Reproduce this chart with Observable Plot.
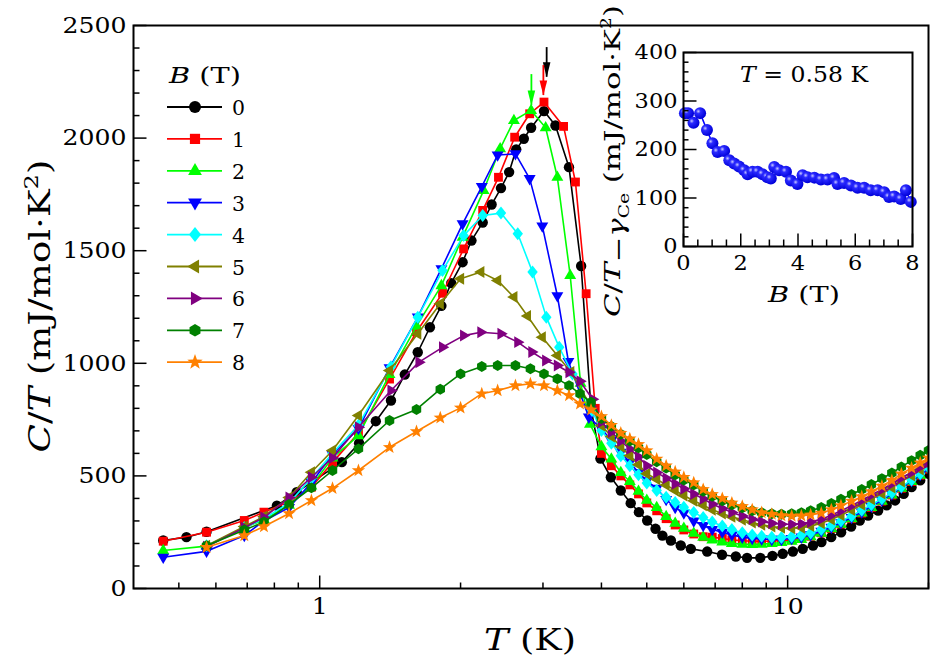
<!DOCTYPE html>
<html><head><meta charset="utf-8">
<script src="https://cdn.jsdelivr.net/npm/d3@7"></script>
<script src="https://cdn.jsdelivr.net/npm/@observablehq/plot@0.6"></script>
<style>
html,body{margin:0;padding:0;background:#fff;}
#wrap{position:relative;width:938px;height:667px;overflow:hidden;background:#fff;}
#wrap svg{position:absolute;overflow:visible;}
</style></head><body><div id="wrap"></div>
<script>
// ---------- data ----------
const fields = [0,1,2,3,4,5,6,7,8];
const colors = ["#000000","#ff0000","#00ff00","#0000ff","#00ffff","#808000","#800080","#008000","#ff8000"];
// shared high-temperature grid (K) used by fields 1..8
const HT = [4.0,4.2,4.4,4.6,4.8,5.0,5.25,5.5,5.75,6.0,6.3,6.6,6.9,7.25,7.6,8.0,8.4,8.8,9.25,9.7,10.2,10.7,11.2,11.8,12.4,13.0,13.7,14.4,15.1,15.9,16.7,17.5,18.4,19.2,20.0];

const T_0 = [0.463,0.519,0.573,0.81,0.893,1.115,1.214,1.318,1.42,1.52,1.62,1.72,1.82,1.91,2.02,2.11,2.23,2.33,2.44,2.54,2.63,2.73,2.83,3.015,3.19,3.41,3.62,3.80,3.98,4.19,4.40,4.62,4.81,5.01,5.22,5.40,5.63,5.91,6.21,6.73,7.24,7.75,8.19,8.74,9.28,9.76,10.26,10.77,11.33,11.81,12.39,13.01,13.67,14.26,14.86,15.61,16.28,16.97,17.7,18.4,19.2,20.0];
const C_0 = [213,228,252,368,428,561,645,743,835,950,1049,1160,1255,1356,1449,1545,1625,1705,1778,1849,1950,1997,2046,2120,2056,1871,1432,800,577,494,435,379,339,302,265,235,213,191,176,164,150,142,136,136,145,154,164,176,191,206,228,250,275,302,324,346,369,391,420,450,480,509];

const T_1 = [0.463,0.573,0.69,0.76,0.86,0.96,1.065,1.21,1.41,1.61,1.83,2.03,2.23,2.41,2.61,2.81,3.015,3.32,3.52,3.71,3.88];
const C_1 = [210,250,302,339,385,450,560,690,930,1140,1311,1508,1679,1826,2004,2108,2160,2052,1805,1309,800];
const C_1h = [600,545,500,460,420,380,345,310,282,260,242,230,228,222,216,212,210,210,211,213,216,222,232,247,266,286,310,335,360,388,415,445,475,503,530];

const T_2 = [0.463,0.573,0.69,0.76,0.86,0.96,1.065,1.21,1.41,1.61,1.82,2.02,2.24,2.43,2.60,2.83,3.04,3.22,3.43,3.61,3.78];
const C_2 = [169,188,270,305,370,455,580,679,950,1165,1345,1560,1767,1953,2078,2123,2046,1826,1390,912,730];
const C_2h = [630,575,515,475,432,392,360,320,290,268,245,228,215,207,200,197,196,197,200,204,210,218,230,245,265,285,310,335,360,388,415,445,475,503,532];

const T_3 = [0.463,0.573,0.69,0.76,0.86,0.96,1.065,1.21,1.41,1.62,1.82,2.02,2.22,2.40,2.62,2.81,2.99,3.22,3.40,3.76];
const C_3 = [139,165,235,300,360,470,595,710,980,1205,1420,1619,1785,1925,1930,1820,1610,1300,1008,761];
const C_3h = [709,657,605,560,515,478,445,395,360,335,300,280,262,250,238,228,222,220,218,218,222,228,238,254,272,292,315,340,365,392,420,448,478,506,535];

const T_4 = [0.573,0.69,0.76,0.86,0.96,1.065,1.21,1.42,1.62,1.83,2.03,2.23,2.44,2.65,2.85,3.05,3.25,3.47,3.82];
const C_4 = [190,270,310,380,490,600,725,985,1205,1412,1567,1656,1667,1575,1405,1205,1071,953,790];
const C_4h = [702,645,590,545,505,468,435,405,382,361,338,315,295,278,262,248,238,232,228,227,230,236,246,262,280,300,322,348,372,398,425,452,482,510,539];

const T_5 = [0.573,0.69,0.76,0.86,0.96,1.065,1.21,1.41,1.62,1.81,2.0,2.21,2.40,2.60,2.78,2.99,3.22,3.44,3.8];
const C_5 = [190,275,320,404,516,613,768,968,1131,1264,1375,1405,1368,1294,1210,1116,1035,961,810];
const C_5h = [724,675,630,590,550,510,485,460,435,413,390,370,350,333,318,305,293,283,275,270,268,270,277,290,306,325,348,372,396,422,448,475,502,528,552];

const T_6 = [0.573,0.69,0.76,0.86,0.96,1.065,1.21,1.42,1.63,1.83,2.03,2.21,2.44,2.65,2.84,3.04,3.22,3.41,3.6,3.83];
const C_6 = [185,270,315,404,494,580,716,879,1005,1071,1123,1138,1131,1094,1050,1012,990,960,920,840];
const C_6h = [739,695,655,620,585,545,515,490,465,443,420,398,375,355,338,322,308,297,290,285,285,288,295,308,325,345,368,392,415,440,465,492,515,540,561];

const T_7 = [0.573,0.69,0.76,0.86,0.96,1.065,1.21,1.41,1.61,1.81,2.0,2.22,2.40,2.62,2.82,3.015,3.22,3.41,3.6,3.8];
const C_7 = [190,260,295,373,447,524,620,746,795,885,953,986,990,990,976,953,931,901,865,827];
const C_7h = [755,720,685,655,625,595,563,535,505,482,460,432,410,390,372,358,345,337,332,330,332,337,345,360,378,396,418,440,462,488,513,540,568,592,613];

const T_8 = [0.573,0.69,0.76,0.86,0.96,1.065,1.21,1.41,1.61,1.81,2.0,2.22,2.40,2.62,2.82,3.015,3.22,3.41,3.6,3.8];
const C_8 = [183,235,275,333,391,445,524,627,697,758,802,865,879,901,909,901,879,857,820,793];
const C_8h = [764,725,690,665,640,612,575,545,518,494,470,440,418,400,380,365,350,337,330,324,322,323,327,335,350,368,388,408,430,455,480,509,535,558,580];

// peak arrows
const arrowT = [3.055,3.006,2.834];
const arrowTop = [2402,2322,2282];
const arrowTip = [2270,2189,2145];
const arrowColors = ["#000000","#ff0000","#00ff00"];

// axes ticks
const yMajor = [0,500,1000,1500,2000,2500];
const yMinor = [100,200,300,400,600,700,800,900,1100,1200,1300,1400,1600,1700,1800,1900,2100,2200,2300,2400];
const xMajor = [1,10];
const xMinor = [0.5,0.6,0.7,0.8,0.9,2,3,4,5,6,7,8,9,20];

// inset: C/T - gamma_Ce at T = 0.58 K vs B
const B_in = [0.05,0.16,0.35,0.58,0.82,1.01,1.19,1.42,1.60,1.77,1.94,2.12,2.24,2.41,2.59,2.76,2.93,3.05,3.17,3.34,3.58,3.75,3.98,4.16,4.33,4.57,4.80,5.03,5.26,5.38,5.61,5.85,6.08,6.31,6.54,6.78,7.01,7.18,7.36,7.59,7.77,7.94];
const V_in = [275,275,255,275,240,213,195,197,178,171,165,157,149,154,154,149,143,140,164,157,154,136,129,147,143,142,138,138,141,129,131,126,121,121,116,116,112,102,103,98,116,92];
const inXMajor = [0,2,4,6,8];
const inXMinor = [0.5,1,1.5,2.5,3,3.5,4.5,5,5.5,6.5,7,7.5];
const inYMajor = [0,100,200,300,400];
const inYMinor = [20,40,60,80,120,140,160,180,220,240,260,280,320,340,360,380];

// ---------- symbols ----------
const FONT = "'DejaVu Serif', 'Liberation Serif', serif";
function poly(pts){ return {draw(ctx,size){ const r=Math.sqrt(size/Math.PI); ctx.moveTo(pts[0][0]*r,pts[0][1]*r); for(let i=1;i<pts.length;i++) ctx.lineTo(pts[i][0]*r,pts[i][1]*r); ctx.closePath(); }}; }
const symSquare = poly([[-0.85,-0.85],[0.85,-0.85],[0.85,0.85],[-0.85,0.85]]);
const symTriUp = poly([[0,-1.3],[1.15,0.68],[-1.15,0.68]]);
const symTriDown = poly([[0,1.3],[1.15,-0.68],[-1.15,-0.68]]);
const symTriLeft = poly([[-1.3,0],[0.68,-1.15],[0.68,1.15]]);
const symTriRight = poly([[1.3,0],[-0.68,-1.15],[-0.68,1.15]]);
const symDiamond = poly([[0,-1.25],[1.0,0],[0,1.25],[-1.0,0]]);
const symHex = poly(d3.range(6).map(i=>{const a=Math.PI/3*i-Math.PI/2; return [1.05*Math.cos(a),1.05*Math.sin(a)];}));
const symStar = poly(d3.range(10).map(i=>{const a=Math.PI/5*i-Math.PI/2; const rr=i%2?0.55:1.35; return [rr*Math.cos(a),rr*Math.sin(a)];}));
const syms = [d3.symbolCircle,symSquare,symTriUp,symTriDown,symDiamond,symTriLeft,symTriRight,symHex,symStar];
const arrowHead = {draw(ctx){ ctx.moveTo(0,0); ctx.lineTo(-3.8,-15); ctx.lineTo(3.8,-15); ctx.closePath(); }};
const tickH = L => ({draw(ctx){ ctx.moveTo(0,0); ctx.lineTo(L,0); }});
const tickV = L => ({draw(ctx){ ctx.moveTo(0,0); ctx.lineTo(0,-L); }});
const num = d => String(d);

// ---------- build series ----------
const Ts = [T_0, T_1.concat(HT), T_2.concat(HT), T_3.concat(HT), T_4.concat(HT), T_5.concat(HT), T_6.concat(HT), T_7.concat(HT), T_8.concat(HT)];
const Cs = [C_0, C_1.concat(C_1h), C_2.concat(C_2h), C_3.concat(C_3h), C_4.concat(C_4h), C_5.concat(C_5h), C_6.concat(C_6h), C_7.concat(C_7h), C_8.concat(C_8h)];
const marks = [];
fields.forEach((f,i)=>{
  const rows = Ts[i].map((t,j)=>({T:t, C:Cs[i][j]}));
  marks.push(Plot.line(rows,{x:"T",y:"C",stroke:colors[i],strokeWidth:1.6,clip:true}));
  marks.push(Plot.dot(rows,{x:"T",y:"C",symbol:syms[i],r:5.2,fill:colors[i],stroke:"none",clip:true}));
});
arrowT.forEach((t,i)=>{
  const a=[{T:t,top:arrowTop[i],tip:arrowTip[i]}];
  marks.push(Plot.ruleX(a,{x:"T",y1:"top",y2:"tip",stroke:arrowColors[i],strokeWidth:1.8}));
  marks.push(Plot.dot(a,{x:"T",y:"tip",symbol:arrowHead,r:5,fill:arrowColors[i],stroke:"none"}));
});
// inward ticks
marks.push(Plot.dot(yMajor,{x:()=>0.4,y:d=>d,symbol:tickH(13),r:5,stroke:"black",strokeWidth:1.5,fill:"none"}));
marks.push(Plot.dot(yMinor,{x:()=>0.4,y:d=>d,symbol:tickH(6),r:5,stroke:"black",strokeWidth:1.5,fill:"none"}));
marks.push(Plot.dot(xMajor,{x:d=>d,y:()=>0,symbol:tickV(13),r:5,stroke:"black",strokeWidth:1.5,fill:"none"}));
marks.push(Plot.dot(xMinor,{x:d=>d,y:()=>0,symbol:tickV(6),r:5,stroke:"black",strokeWidth:1.5,fill:"none"}));
marks.push(Plot.axisY(yMajor,{tickSize:0,tickPadding:7,label:null,fontSize:23,tickFormat:num}));
marks.push(Plot.axisX(xMajor,{tickSize:0,tickPadding:9,label:null,fontSize:23,tickFormat:num}));
marks.push(Plot.frame({stroke:"black",strokeWidth:2}));

const main = Plot.plot({
  width:938,height:667,marginLeft:133,marginRight:10,marginTop:25,marginBottom:79,
  x:{type:"log",domain:[0.4,20]},
  y:{domain:[0,2500]},
  style:{fontFamily:FONT,fontSize:"23px",color:"black",background:"transparent"},
  marks
});
main.style.left="0px"; main.style.top="0px";
document.getElementById("wrap").appendChild(main);

// ---------- inset ----------
const inRows = B_in.map((b,i)=>({B:b,V:V_in[i]}));
const inset = Plot.plot({
  width:330,height:320,marginLeft:83,marginRight:18,marginTop:52,marginBottom:74,
  x:{domain:[0,8]}, y:{domain:[0,400]},
  style:{fontFamily:FONT,fontSize:"20.5px",color:"black",background:"transparent"},
  marks:[
    Plot.line(inRows,{x:"B",y:"V",stroke:"#0000ff",strokeWidth:1.5}),
    Plot.dot(inRows,{x:"B",y:"V",r:6,fill:"url(#ball)",stroke:"none"}),
    Plot.dot(inYMajor,{x:()=>0,y:d=>d,symbol:tickH(13),r:5,stroke:"black",strokeWidth:1.5,fill:"none"}),
    Plot.dot(inYMinor,{x:()=>0,y:d=>d,symbol:tickH(5),r:5,stroke:"black",strokeWidth:1.5,fill:"none"}),
    Plot.dot(inXMajor,{x:d=>d,y:()=>0,symbol:tickV(13),r:5,stroke:"black",strokeWidth:1.5,fill:"none"}),
    Plot.dot(inXMinor,{x:d=>d,y:()=>0,symbol:tickV(7),r:5,stroke:"black",strokeWidth:1.5,fill:"none"}),
    Plot.axisY(inYMajor,{tickSize:0,tickPadding:6,label:null,fontSize:20.5,tickFormat:num}),
    Plot.axisX(inXMajor,{tickSize:0,tickPadding:9,label:null,fontSize:20.5,tickFormat:num}),
    Plot.frame({stroke:"black",strokeWidth:2})
  ]
});
inset.style.left="600px"; inset.style.top="0px";
document.getElementById("wrap").appendChild(inset);

// gradient for the shaded balls
const defs = d3.select(inset).insert("defs",":first-child");
const grad = defs.append("radialGradient").attr("id","ball").attr("cx","35%").attr("cy","35%").attr("r","65%");
grad.append("stop").attr("offset","0%").attr("stop-color","#c8c8ff");
grad.append("stop").attr("offset","30%").attr("stop-color","#2a2aff");
grad.append("stop").attr("offset","100%").attr("stop-color","#0000d8");

// stretch tick labels to the reference glyph widths
function fixTicks(svg, perChar){
  svg.querySelectorAll('g[aria-label$="tick label"] text').forEach(t=>{
    const s=t.textContent; t.setAttribute("textLength", s.length*perChar); t.setAttribute("lengthAdjust","spacingAndGlyphs");
  });
}
fixTicks(main,16); fixTicks(inset,14.3);

// ---------- text helpers ----------
function rich(svg, x, y, parts, {size=26, anchor="start", rotate=0, length=null, adjust="spacingAndGlyphs"}={}){
  const t = d3.select(svg).append("text")
    .attr("transform",`translate(${x},${y})`+(rotate?` rotate(${rotate})`:""))
    .attr("text-anchor",anchor).style("font-family",FONT).style("font-size",size+"px").style("font-weight","normal").attr("fill","black");
  parts.forEach(p=>{
    const s=t.append("tspan").text(p.t);
    if(p.i) s.attr("font-style","italic");
    if(p.fs) s.style("font-size",p.fs+"px");
    if(p.dy) s.attr("dy",p.dy);
  });
  if(length){ t.attr("textLength",length).attr("lengthAdjust",adjust); }
  return t;
}
// main axis titles
rich(main, 50, 306, [{t:"C",i:1},{t:"/"},{t:"T",i:1},{t:" (mJ/mol·K"},{t:"2",fs:19,dy:-12},{t:")",dy:12}], {size:29, anchor:"middle", rotate:-90, length:293});
rich(main, 530, 650, [{t:"T",i:1},{t:" (K)"}], {size:30, anchor:"middle", length:92});

// legend
rich(main, 169, 83, [{t:"B",i:1},{t:" (T)"}], {size:23, length:72});
const lg = d3.select(main).append("g");
fields.forEach((f,i)=>{
  const y = 107 + i*31.9;
  lg.append("line").attr("x1",167).attr("x2",222).attr("y1",y).attr("y2",y).attr("stroke",colors[i]).attr("stroke-width",1.8);
  lg.append("path").attr("transform",`translate(195,${y})`).attr("d",d3.symbol().type(syms[i]).size(36*Math.PI)()).attr("fill",colors[i]);
  rich(main, 232, y+8, [{t:String(f)}], {size:20.5, length:13});
});

// inset texts
rich(inset, 204, 82, [{t:"T",i:1},{t:" = 0.58 K"}], {size:23, anchor:"middle", length:128});
rich(inset, 204, 302, [{t:"B",i:1},{t:" (T)"}], {size:23, anchor:"middle", length:72});
rich(inset, 20, 161, [{t:"C",i:1},{t:"/"},{t:"T",i:1},{t:"−",dy:6},{t:"γ",i:1,dy:-2},{t:"Ce",fs:14,dy:5},{t:" (mJ/mol·K",dy:-9},{t:"2",fs:14,dy:-9},{t:")",dy:9}], {size:23, anchor:"middle", rotate:-90, length:312});
</script></body></html>
